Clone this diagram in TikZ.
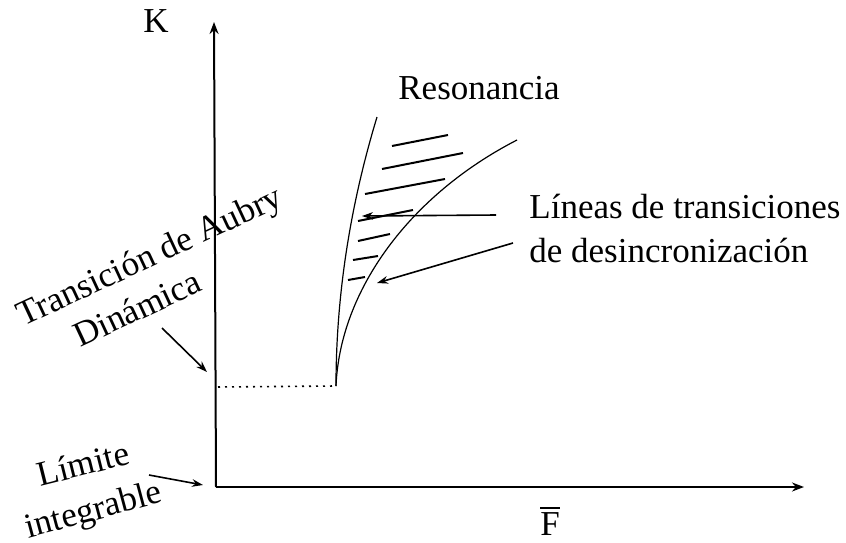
\documentclass[tikz,border=0pt]{standalone}
\usepackage{amsmath}
\usepackage{fontspec}
\setmainfont{Liberation Serif}
\usetikzlibrary{arrows.meta, positioning}

\begin{document}
\begin{tikzpicture}[
  x=0.5pt, y=-0.5pt,
  every node/.style={font=\fontsize{17.5}{21}\selectfont, inner sep=0pt},
  axis/.style={line width=1pt, -{Stealth[length=6pt, width=4.5pt]}},
  curve/.style={line width=0.6pt},
  hatch/.style={line width=1pt},
  pointer/.style={line width=0.8pt, -{Stealth[length=5.5pt, width=3.8pt]}},
  label/.style={anchor=base},
]
  \useasboundingbox (0,0) rectangle (846,542);

  % axes
  \coordinate (O) at (216,487);
  \coordinate (ytip) at (214,22);
  \coordinate (xtip) at (804,487);
  \draw[axis] (O) -- (ytip);
  \draw[axis] (O) -- (xtip);
  \node (K) at (156,21) {K};
  \node (Fbar) at (550,521) {$\overline{\text{F}}$};

  % dynamic Aubry transition level
  \coordinate (Kaubry) at (218,387);
  \coordinate (cusp) at (336,386);
  \draw[line width=0.8pt, dash pattern=on 1pt off 2.5pt] (Kaubry) -- (cusp);

  % resonance border and desynchronization curve
  \coordinate (resTop) at (377,117);
  \coordinate (desTop) at (517,140);
  \draw[curve] (cusp) .. controls (336,296) and (350,206) .. (resTop);
  \draw[curve] (cusp) .. controls (340,290) and (410,195) .. (desTop);

  % transition lines
  \foreach \xa/\ya/\xb/\yb in {392/146/448/135, 382/169/463/153, 365/194/445/179,
                                358/221/413/210, 358/241/390/234, 353/260/378/256,
                                348/280/365/277}
    \draw[hatch] (\xa,\ya) -- (\xb,\yb);

  \node[anchor=base west] (res) at (398,99) {Resonancia};
  \node[anchor=base west] (lin1) at (529,218) {Líneas de transiciones};
  \node[anchor=base west] (lin2) at (529,262) {de desincronización};

  \coordinate (lin1from) at (496,215);
  \coordinate (lin1to) at (362,216);
  \coordinate (lin2from) at (513,243);
  \coordinate (lin2to) at (377,283);
  \draw[pointer] (lin1from) -- (lin1to);
  \draw[pointer] (lin2from) -- (lin2to);

  % left labels
  \node[label, rotate=25] (aubry) at (154,266) {Transición de Aubry};
  \node[label, rotate=25] (din) at (142,319) {Dinámica};
  \node[label, rotate=14] (lim) at (86,475) {Límite};
  \node[label, rotate=15] (integ) at (96,520) {integrable};

  \coordinate (dinfrom) at (162,328);
  \coordinate (dinto) at (207,372);
  \coordinate (limfrom) at (149,475);
  \coordinate (limto) at (203,485);
  \draw[pointer] (dinfrom) -- (dinto);
  \draw[pointer] (limfrom) -- (limto);
\end{tikzpicture}
\end{document}
